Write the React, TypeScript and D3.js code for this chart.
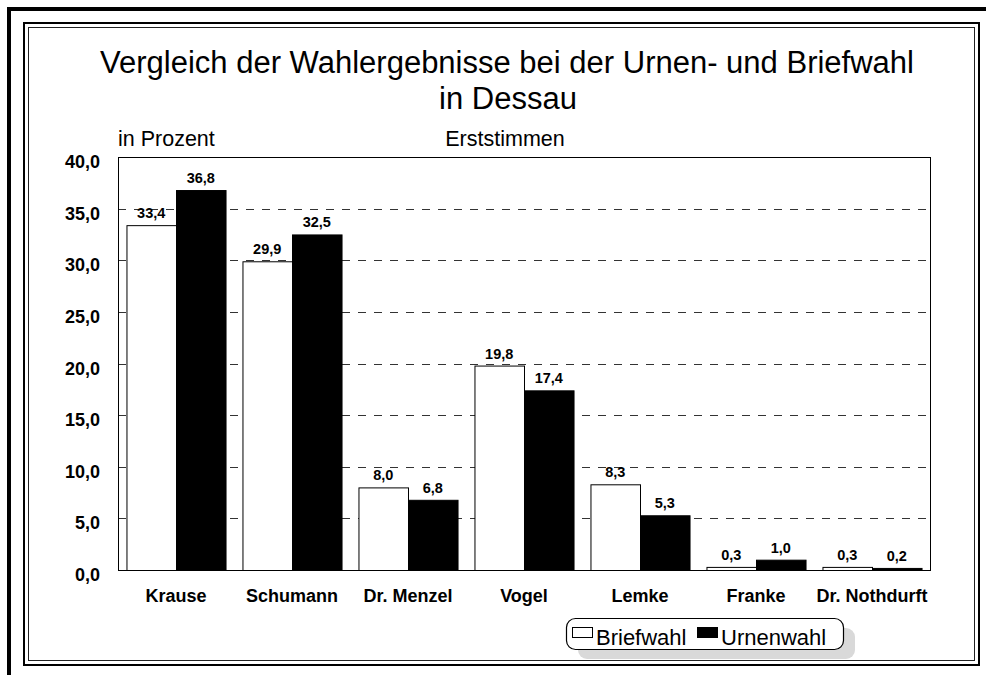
import { useEffect, useRef } from 'react';
import * as d3 from 'd3';

const candidates = ['Krause', 'Schumann', 'Dr. Menzel', 'Vogel', 'Lemke', 'Franke', 'Dr. Nothdurft'];
const briefwahl = [33.4, 29.9, 8.0, 19.8, 8.3, 0.3, 0.3];
const urnenwahl = [36.8, 32.5, 6.8, 17.4, 5.3, 1.0, 0.2];
const yTicks = [0, 5, 10, 15, 20, 25, 30, 35, 40];
const seriesNames = ['Briefwahl', 'Urnenwahl'];

const FONT = 'Arial, "Liberation Sans", sans-serif';
const fmt = (v: number) => v.toFixed(1).replace('.', ',');

const App = () => {
    const svgRef = useRef<SVGSVGElement>(null);

    useEffect(() => {
        if (!svgRef.current) return;
        const svg = d3.select(svgRef.current);
        svg.selectAll('*').remove();

        const width = 986;
        const height = 675;
        const plot = { left: 118, top: 157, right: 930, bottom: 570 };

        svg.append('rect').attr('width', width).attr('height', height).attr('fill', '#fff');

        // outer frame (runs off the page on the right and bottom)
        svg.append('rect')
            .attr('x', 9).attr('y', 9)
            .attr('width', 1000).attr('height', 700)
            .attr('fill', 'none').attr('stroke', '#000').attr('stroke-width', 4);

        // inner double frame
        svg.append('rect')
            .attr('x', 24).attr('y', 23)
            .attr('width', 955).attr('height', 642)
            .attr('fill', 'none').attr('stroke', '#000').attr('stroke-width', 2);
        svg.append('rect')
            .attr('x', 28.5).attr('y', 27.5)
            .attr('width', 946).attr('height', 633)
            .attr('fill', 'none').attr('stroke', '#222').attr('stroke-width', 1);

        // titles
        svg.append('text')
            .attr('x', 507).attr('y', 73)
            .attr('text-anchor', 'middle')
            .style('font-family', FONT).style('font-size', '31px')
            .text('Vergleich der Wahlergebnisse bei der Urnen- und Briefwahl');
        svg.append('text')
            .attr('x', 508).attr('y', 109)
            .attr('text-anchor', 'middle')
            .style('font-family', FONT).style('font-size', '31px')
            .text('in Dessau');
        svg.append('text')
            .attr('x', 118).attr('y', 146)
            .style('font-family', FONT).style('font-size', '21.5px')
            .text('in Prozent');
        svg.append('text')
            .attr('x', 505).attr('y', 146)
            .attr('text-anchor', 'middle')
            .style('font-family', FONT).style('font-size', '21.5px')
            .text('Erststimmen');

        const x = d3.scaleBand<string>()
            .domain(candidates)
            .range([plot.left, plot.right])
            .paddingInner(0.146)
            .paddingOuter(0.073);

        const y = d3.scaleLinear()
            .domain([0, 40])
            .range([plot.bottom, plot.top]);

        // dashed grid lines
        svg.append('g')
            .selectAll('line')
            .data(yTicks.filter(t => t > 0 && t < 40))
            .enter()
            .append('line')
            .attr('x1', plot.left).attr('x2', plot.right)
            .attr('y1', d => Math.round(y(d)) + 0.5).attr('y2', d => Math.round(y(d)) + 0.5)
            .attr('stroke', '#333').attr('stroke-width', 1)
            .attr('stroke-dasharray', '8,8');

        // plot border
        svg.append('rect')
            .attr('x', plot.left + 0.5).attr('y', plot.top + 0.5)
            .attr('width', plot.right - plot.left).attr('height', plot.bottom - plot.top)
            .attr('fill', 'none').attr('stroke', '#000').attr('stroke-width', 1);

        // y tick labels
        svg.append('g')
            .selectAll('text')
            .data(yTicks)
            .enter()
            .append('text')
            .attr('x', 100)
            .attr('y', d => y(d) + 11)
            .attr('text-anchor', 'end')
            .style('font-family', FONT).style('font-size', '18px').style('font-weight', 'bold')
            .text(d => fmt(d));

        const x1 = d3.scaleBand<number>()
            .domain([0, 1])
            .range([0, x.bandwidth()]);

        const groups = svg.append('g')
            .selectAll('g')
            .data(candidates)
            .enter()
            .append('g')
            .attr('transform', d => `translate(${x(d)},0)`);

        const series = [briefwahl, urnenwahl];
        groups.selectAll('rect')
            .data((_, i) => series.map((s, k) => ({ k, v: s[i] })))
            .enter()
            .append('rect')
            .attr('x', d => (x1(d.k) as number) + 0.5)
            .attr('y', d => y(d.v) + 0.5)
            .attr('width', x1.bandwidth())
            .attr('height', d => y(0) - y(d.v))
            .attr('fill', d => (d.k === 0 ? '#fff' : '#000'))
            .attr('stroke', '#000').attr('stroke-width', 1);

        groups.selectAll('text.val')
            .data((_, i) => series.map((s, k) => ({ k, v: s[i] })))
            .enter()
            .append('text')
            .attr('class', 'val')
            .attr('x', d => (x1(d.k) as number) + x1.bandwidth() / 2)
            .attr('y', d => y(d.v) - 7)
            .attr('text-anchor', 'middle')
            .style('font-family', FONT).style('font-size', '14.5px').style('font-weight', 'bold')
            .text(d => fmt(d.v));

        // category labels
        svg.append('g')
            .selectAll('text')
            .data(candidates)
            .enter()
            .append('text')
            .attr('x', d => (x(d) as number) + x.bandwidth() / 2)
            .attr('y', 602)
            .attr('text-anchor', 'middle')
            .style('font-family', FONT).style('font-size', '18px').style('font-weight', 'bold')
            .text(d => d);

        // legend with shadow
        const lg = { x: 566, y: 618, w: 277, h: 31 };
        svg.append('rect')
            .attr('x', lg.x + 12).attr('y', lg.y + 10)
            .attr('width', lg.w).attr('height', lg.h)
            .attr('rx', 9)
            .attr('fill', '#d9d9d9');
        svg.append('rect')
            .attr('x', lg.x + 0.5).attr('y', lg.y + 0.5)
            .attr('width', lg.w).attr('height', lg.h)
            .attr('rx', 9)
            .attr('fill', '#fff').attr('stroke', '#000').attr('stroke-width', 1.2);

        const legendX = [572, 697];
        seriesNames.forEach((name, i) => {
            svg.append('rect')
                .attr('x', legendX[i] + 0.5).attr('y', 627.5)
                .attr('width', 20).attr('height', 10)
                .attr('fill', i === 0 ? '#fff' : '#000')
                .attr('stroke', '#000').attr('stroke-width', 1);
            svg.append('text')
                .attr('x', legendX[i] + 24).attr('y', 645)
                .style('font-family', FONT).style('font-size', '22px')
                .text(name);
        });
    }, []);

    return (
        <svg ref={svgRef} width={986} height={675}
            style={{ position: 'absolute', left: 0, top: 0, display: 'block' }}
            role="img" aria-label="Vergleich der Wahlergebnisse bei der Urnen- und Briefwahl in Dessau"></svg>
    );
};

export default App;
